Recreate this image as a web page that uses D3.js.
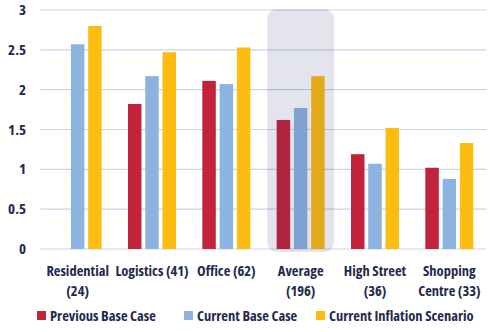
<!DOCTYPE html>
<html lang="en">
<head>
  <meta charset="UTF-8" />
  <title>Scenarios by sector</title>
  <style>
    html, body { margin: 0; padding: 0; background: #fff; }
    svg { display: block; }
    text {
      font-family: "Open Sans", sans-serif;
      font-stretch: condensed;
      font-weight: bold;
      fill: #1f2a4e;
    }
    .grid line { stroke: #cbd3ee; stroke-width: 1.2; }
  </style>
</head>
<body>
  <svg id="chart" width="499" height="332"></svg>
  <script src="https://cdn.jsdelivr.net/npm/d3@7/dist/d3.min.js"></script>
  <script>
    // data
    const categories = ["Residential", "Logistics", "Office", "Average", "High Street", "Shopping"];
    const categoryLines = [
      ["Residential", "(24)"],
      ["Logistics (41)"],
      ["Office (62)"],
      ["Average", "(196)"],
      ["High Street", "(36)"],
      ["Shopping", "Centre (33)"]
    ];
    const seriesNames = ["Previous Base Case", "Current Base Case", "Current Inflation Scenario"];
    const previousBase = [null, 1.82, 2.11, 1.62, 1.19, 1.02];
    const currentBase = [2.57, 2.17, 2.07, 1.77, 1.07, 0.88];
    const inflationScenario = [2.80, 2.47, 2.53, 2.17, 1.52, 1.33];
    const yTicks = [0, 0.5, 1, 1.5, 2, 2.5, 3];
    const highlighted = "Average";

    const colors = ["#c3223b", "#8db4e1", "#fdbd10"];
    const allSeries = [previousBase, currentBase, inflationScenario];

    const svg = d3.select("#chart");
    const plotL = 40.5, plotR = 486.5, plotT = 10, plotB = 249;

    const x = d3.scaleBand().domain(categories).range([plotL, plotR]);
    const xs = d3.scaleBand().domain(seriesNames)
      .range([x.bandwidth() / 2 - 24, x.bandwidth() / 2 + 24])
      .paddingInner(0.22);
    const y = d3.scaleLinear().domain([0, 3]).range([plotB, plotT]);

    // grid
    const grid = svg.append("g").attr("class", "grid");
    grid.selectAll("line").data(yTicks).enter().append("line")
      .attr("x1", plotL).attr("x2", plotR)
      .attr("y1", d => y(d)).attr("y2", d => y(d));

    // y labels
    svg.append("g").selectAll("text").data(yTicks).enter().append("text")
      .attr("x", 26).attr("y", d => y(d) + 5)
      .attr("text-anchor", "end")
      .style("font-size", "15px")
      .text(d => d);

    // bars
    const groups = svg.append("g").selectAll("g").data(categories).enter().append("g")
      .attr("transform", d => `translate(${x(d)},0)`);
    groups.selectAll("rect")
      .data((c, i) => allSeries
        .map((s, j) => ({ name: seriesNames[j], v: s[i], j }))
        .filter(d => d.v != null))
      .enter().append("rect")
      .attr("x", d => xs(d.name))
      .attr("width", xs.bandwidth())
      .attr("y", d => y(d.v))
      .attr("height", d => y(0) - y(d.v))
      .attr("fill", d => colors[d.j]);

    // highlight box over the average group
    svg.append("rect")
      .attr("x", x(highlighted) + x.bandwidth() / 2 - 33.5)
      .attr("y", plotT - 1)
      .attr("width", 67)
      .attr("height", plotB - plotT + 4)
      .attr("rx", 10)
      .attr("fill", "#2d2f70")
      .attr("opacity", 0.13);

    // category labels
    const cl = svg.append("g").selectAll("text").data(categories).enter().append("text")
      .attr("x", d => x(d) + x.bandwidth() / 2)
      .attr("y", 276)
      .attr("text-anchor", "middle")
      .style("font-size", "14.5px");
    cl.selectAll("tspan").data((d, i) => categoryLines[i]).enter().append("tspan")
      .attr("x", function () { return this.parentNode.getAttribute("x"); })
      .attr("dy", (d, i) => i === 0 ? 0 : 20)
      .text(d => d);

    // legend
    const legendX = [37, 184, 316];
    const legend = svg.append("g").selectAll("g").data(seriesNames).enter().append("g")
      .attr("transform", (d, i) => `translate(${legendX[i]},311)`);
    legend.append("rect").attr("width", 9).attr("height", 9)
      .attr("fill", (d, i) => colors[i]);
    legend.append("text").attr("x", 13).attr("y", 9.5)
      .style("font-size", "14.5px")
      .text(d => d);
  </script>
</body>
</html>
